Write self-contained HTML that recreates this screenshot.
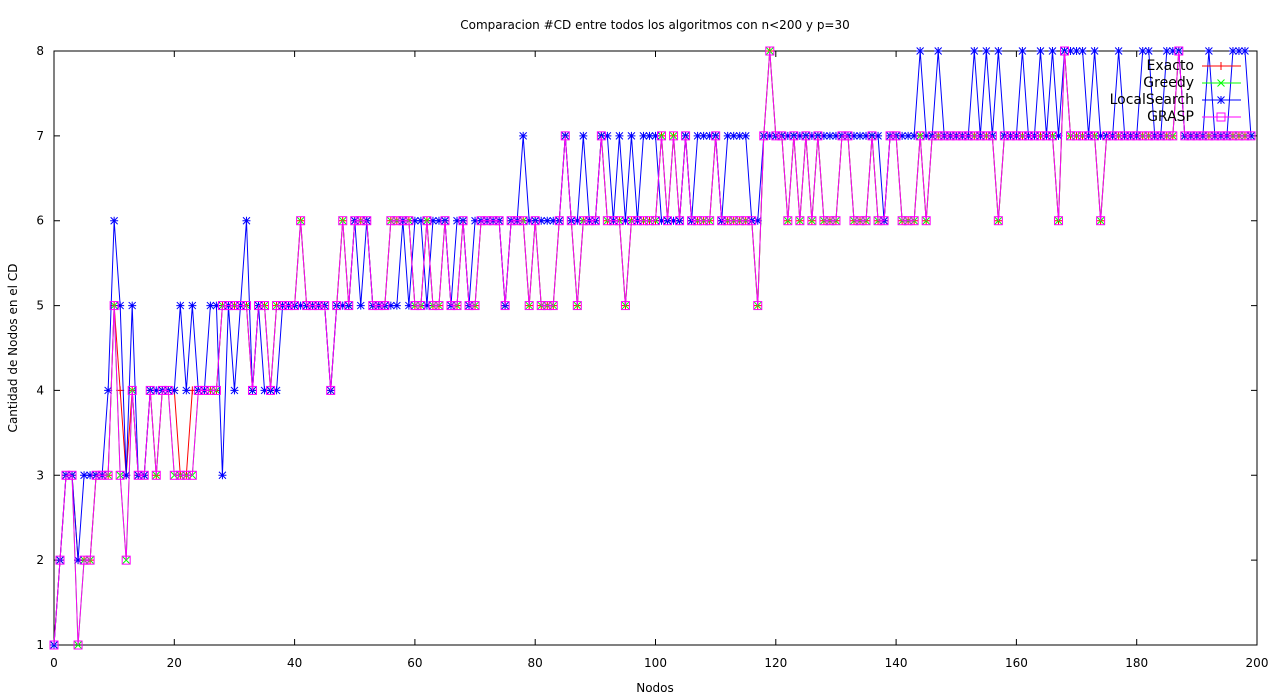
<!DOCTYPE html>
<html><head><meta charset="utf-8"><style>
html,body{margin:0;padding:0;background:#fff;}
svg{display:block;font-family:"DejaVu Sans","Liberation Sans",sans-serif;}
</style></head><body>
<svg id="chart" width="1280" height="699" viewBox="0 0 1280 699" xmlns="http://www.w3.org/2000/svg">
<text x="655" y="29" font-size="12" text-anchor="middle">Comparacion #CD entre todos los algoritmos con n&lt;200 y p=30</text>
<text x="655" y="692" font-size="12" text-anchor="middle">Nodos</text>
<text x="17" y="348" font-size="12" text-anchor="middle" transform="rotate(-90 17 348)">Cantidad de Nodos en el CD</text>
<g id="axes"></g>
<g id="series"></g>
<g id="legend"></g>
</svg>
<script>
const xTicks = [0,20,40,60,80,100,120,140,160,180,200];
const yTicks = [1,2,3,4,5,6,7,8];
const seriesNames = ["Exacto","Greedy","LocalSearch","GRASP"];
const exacto = [1,2,3,3,2,2,2,3,3,3,5,4,3,4,3,3,4,3,4,4,4,3,3,4,4,4,4,4,5,5,5,5,5,4,5,
5,4,5,5,5,5,6,5,5,5,5,4,5,6,5,6,6,6,5,5,5,6,6,6,6,5,5,6,5,5,6,5,5,
6,5,5,6,6,6,6,5,6,6,6,5,6,5,5,5,6,7,6,5,6,6,6,7,6,6,6,5,6,6,6,6,6,
7,6,7,6,7,6,6,6,6,7,6,6,6,6,6,6,5,7,8,7,7,6,7,6,7,
6,7,6,6,6,7,7,6,6,6,7,6,6,7,7,6,6,6,7,6,7,7,7,7,7,7,7,7,7,7,7,6,7,7,7,7,7,7,7,7,7,6,8,7,7,7,7,7,6,7,7,7,7,7,7,7,7,7,7,7,7,8,7,7,7,7,7,7,7,7,7,7,7,7];
const greedy = [1,2,3,3,1,2,2,3,3,3,5,3,2,4,3,3,4,3,4,4,3,3,3,3,4,4,4,4,5,5,5,5,5,4,5,
5,4,5,5,5,5,6,5,5,5,5,4,5,6,5,6,6,6,5,5,5,6,6,6,6,5,5,6,5,5,6,5,5,
6,5,5,6,6,6,6,5,6,6,6,5,6,5,5,5,6,7,6,5,6,6,6,7,6,6,6,5,6,6,6,6,6,
7,6,7,6,7,6,6,6,6,7,6,6,6,6,6,6,5,7,8,7,7,6,7,6,7,
6,7,6,6,6,7,7,6,6,6,7,6,6,7,7,6,6,6,7,6,7,7,7,7,7,7,7,7,7,7,7,6,7,7,7,7,7,7,7,7,7,6,8,7,7,7,7,7,6,7,7,7,7,7,7,7,7,7,7,7,7,8,7,7,7,7,7,7,7,7,7,7,7,7];
const localSearch = [1,2,3,3,2,3,3,3,3,4,6,5,3,5,3,3,4,4,4,4,4,5,4,5,4,4,5,5,3,5,4,5,6,4,5,
4,4,4,5,5,5,5,5,5,5,5,4,5,5,5,6,5,6,5,5,5,5,5,6,5,6,6,5,6,6,6,5,6,
6,5,6,6,6,6,6,5,6,6,7,6,6,6,6,6,6,7,6,6,7,6,6,7,7,6,7,6,7,6,7,7,7,
6,6,6,6,7,6,7,7,7,7,6,7,7,7,7,6,6,7,7,7,7,7,7,7,7,
7,7,7,7,7,7,7,7,7,7,7,7,6,7,7,7,7,7,8,7,7,8,7,7,7,7,7,8,7,8,7,8,7,7,7,8,7,7,8,7,8,7,8,8,8,8,7,8,7,7,7,8,7,7,7,8,8,7,7,8,8,8,7,7,7,7,8,7,7,7,8,8,8,7];
const grasp = [1,2,3,3,1,2,2,3,3,3,5,3,2,4,3,3,4,3,4,4,3,3,3,3,4,4,4,4,5,5,5,5,5,4,5,
5,4,5,5,5,5,6,5,5,5,5,4,5,6,5,6,6,6,5,5,5,6,6,6,6,5,5,6,5,5,6,5,5,
6,5,5,6,6,6,6,5,6,6,6,5,6,5,5,5,6,7,6,5,6,6,6,7,6,6,6,5,6,6,6,6,6,
7,6,7,6,7,6,6,6,6,7,6,6,6,6,6,6,5,7,8,7,7,6,7,6,7,
6,7,6,6,6,7,7,6,6,6,7,6,6,7,7,6,6,6,7,6,7,7,7,7,7,7,7,7,7,7,7,6,7,7,7,7,7,7,7,7,7,6,8,7,7,7,7,7,6,7,7,7,7,7,7,7,7,7,7,7,7,8,7,7,7,7,7,7,7,7,7,7,7,7];

const NS = "http://www.w3.org/2000/svg";
const L = 54, R = 1257, T = 51, B = 645;
const xs = v => L + (v - 0) / 200 * (R - L);
const ys = v => B - (v - 1) / 7 * (B - T);
function mk(tag, attrs, parent){ const e = document.createElementNS(NS, tag); for (const k in attrs) e.setAttribute(k, attrs[k]); parent.appendChild(e); return e; }

const axes = document.getElementById("axes");
const frame = mk("rect", {x:L, y:T, width:R-L, height:B-T, fill:"none", stroke:"#000", "stroke-width":1}, axes);


xTicks.forEach(t => {
  const x = xs(t);
  const tk = mk("path", {d:`M${x} ${B}v-6M${x} ${T}v6`, stroke:"#000", "stroke-width":1}, axes);
  
  
  const lb = mk("text", {x:x, y:B+22, "font-size":12, "text-anchor":"middle"}, axes);
  lb.textContent = t;
  
  
});
yTicks.forEach(t => {
  const y = ys(t);
  const tk = mk("path", {d:`M${L} ${y}h6M${R} ${y}h-6`, stroke:"#000", "stroke-width":1}, axes);
  
  
  const lb = mk("text", {x:L-10, y:y+4, "font-size":12, "text-anchor":"end"}, axes);
  lb.textContent = t;
  
  
});

const colors = ["#ff0000","#00ff00","#0000ff","#ff00ff"];
const datas = [exacto, greedy, localSearch, grasp];
function marker(kind, x, y, color, parent){
  let d;
  if (kind === 0) d = `M${x-4} ${y}h8M${x} ${y-4}v8`;
  else if (kind === 1) d = `M${x-3.5} ${y-3.5}l7 7M${x-3.5} ${y+3.5}l7 -7`;
  else if (kind === 2) d = `M${x-4} ${y}h8M${x} ${y-4}v8M${x-3.5} ${y-3.5}l7 7M${x-3.5} ${y+3.5}l7 -7`;
  if (kind === 3) return mk("rect", {x:x-4, y:y-4, width:8, height:8, fill:"none", stroke:color, "stroke-width":1}, parent);
  return mk("path", {d:d, stroke:color, "stroke-width":1, fill:"none"}, parent);
}
const sg = document.getElementById("series");
datas.forEach((arr, s) => {
  const g = mk("g", {}, sg);
  
  
  const pts = arr.map((v, i) => `${xs(i).toFixed(2)},${ys(v).toFixed(2)}`).join(" ");
  const ln = mk("polyline", {points:pts, fill:"none", stroke:colors[s], "stroke-width":1}, g);
  
  
  arr.forEach((v, i) => {
    const m = marker(s, xs(i), ys(v), colors[s], g);
    
    
  });
});

const lg = document.getElementById("legend");
seriesNames.forEach((n, s) => {
  const y = 66 + s * 17;
  const g = mk("g", {}, lg);
  
  
  const t = mk("text", {x:1194, y:y+4, "font-size":14, "text-anchor":"end"}, g);
  t.textContent = n;
  mk("line", {x1:1202, y1:y, x2:1241, y2:y, stroke:colors[s], "stroke-width":1}, g);
  marker(s, 1221, y, colors[s], g);
});
</script>
</body></html>
